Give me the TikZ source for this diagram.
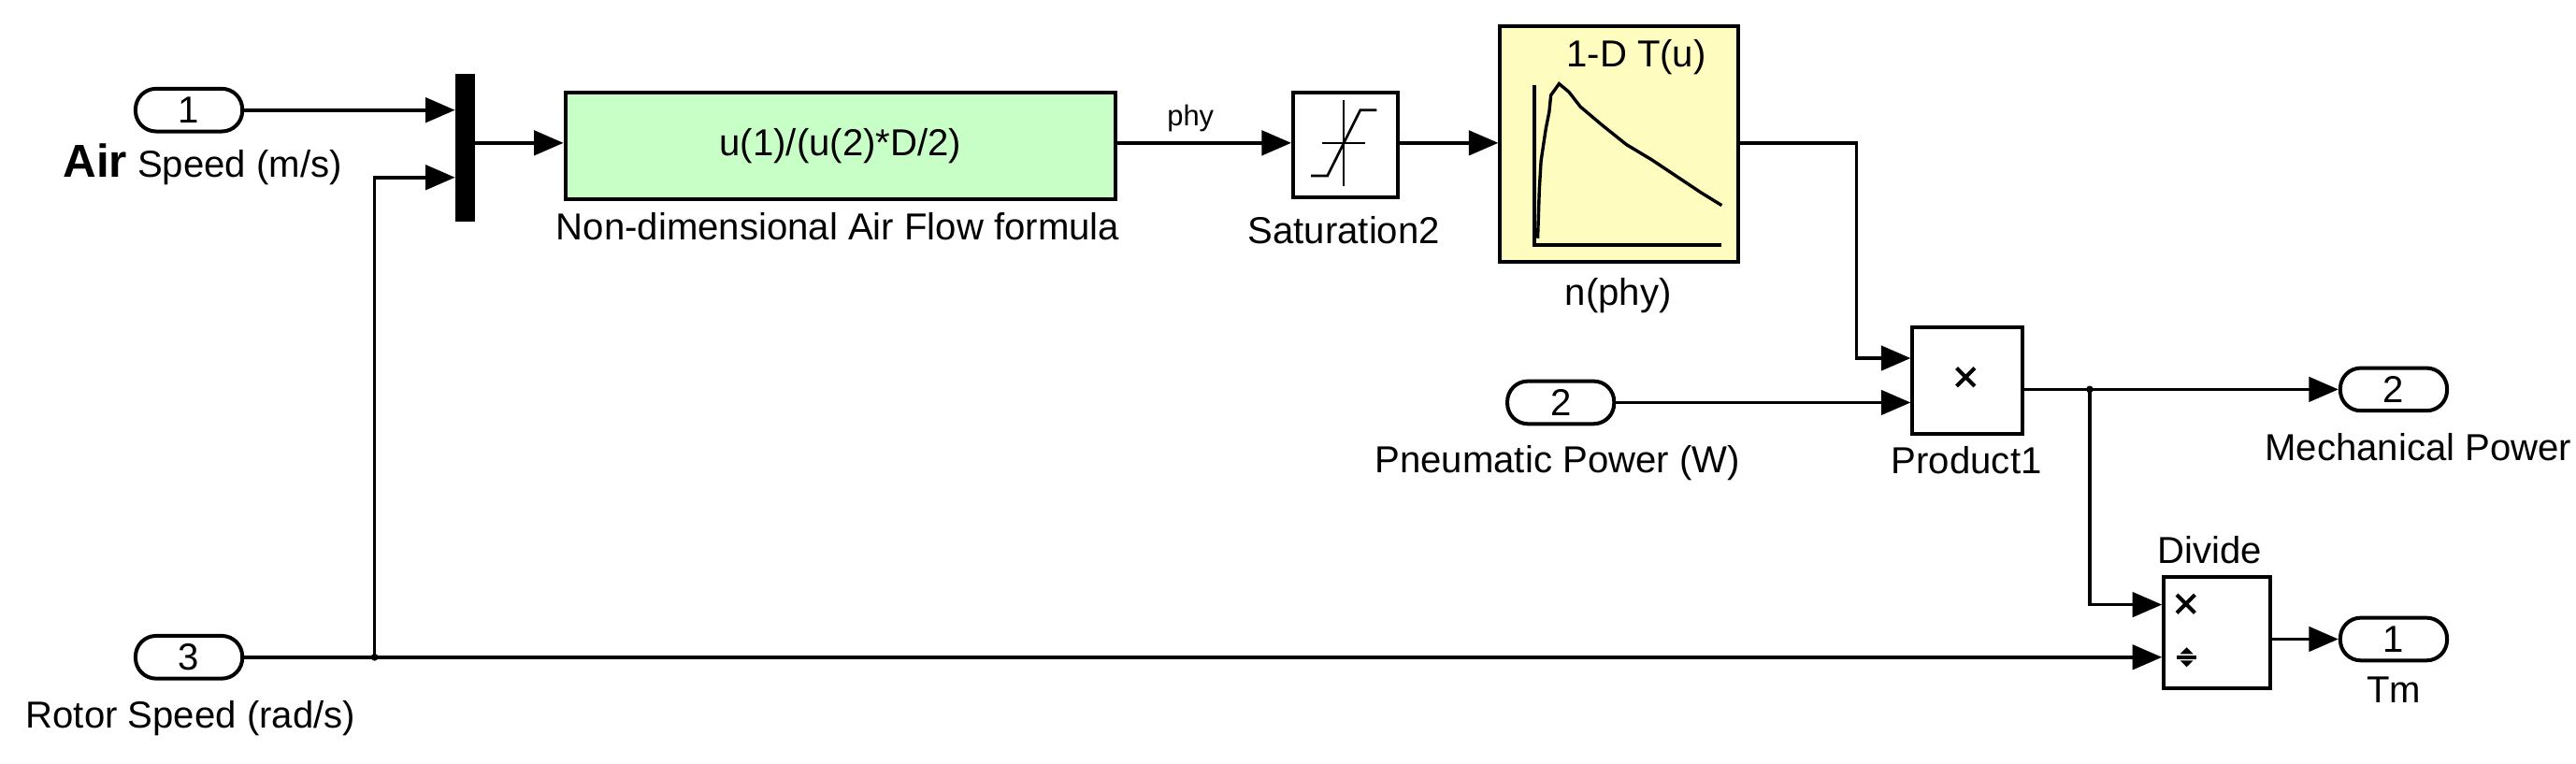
\documentclass[tikz,border=0pt]{standalone}
\usepackage{fontspec}
\setmainfont{Liberation Sans}
\usetikzlibrary{arrows.meta}
\begin{document}
\begin{tikzpicture}[x=0.02cm,y=-0.02cm,
  font=\fontsize{13}{15}\selectfont,
  wire/.style={line width=1.2pt},
  sig/.style={wire,-{Triangle[length=0.36cm,width=0.3cm]}},
  port/.style={draw,line width=1.3pt,rounded corners=0.25cm,minimum width=1.3cm,minimum height=0.52cm,inner sep=0pt},
  blk/.style={draw,line width=1.3pt,inner sep=0pt,anchor=north west},
  lbl/.style={inner sep=0pt},
  crs/.style={line width=1.3pt}]
\useasboundingbox (0,0) rectangle (1568,465);
% inports
\node[port] (in1) at (115,67) {1};
\node[lbl,anchor=west] (l1) at (38,100) {\fontsize{16}{18}\selectfont\textbf{Air}\fontsize{13}{15}\selectfont\ Speed (m/s)};
\node[port] (in3) at (115,400) {3};
\node[lbl] (l3) at (116,437) {Rotor Speed (rad/s)};
\node[port] (in2) at (950,245) {2};
\node[lbl] (l2) at (948,282) {Pneumatic Power (W)};
% mux
\node[fill=black,minimum width=0.24cm,minimum height=1.8cm,inner sep=0pt] (mux) at (283,90) {};
% fcn
\node[blk,fill=green!22,minimum width=6.7cm,minimum height=1.3cm] (fcn) at (343,55) {};
\node at (fcn.center) {u(1)/(u(2)*D/2)};
\node[lbl] (lf) at (510,138) {Non-dimensional Air Flow formula};
% saturation
\node[blk,fill=white,minimum width=1.28cm,minimum height=1.28cm] (sat) at (786,55) {};
\draw[line width=0.9pt] (798,107)--(808,107)--(828,67)--(838,67);
\draw[line width=0.6pt] (805,87)--(831,87) (818,61)--(818,113);
\node[lbl] (ls) at (818,140) {Saturation2};
% lookup
\node[blk,fill=yellow!25,minimum width=2.9cm,minimum height=2.86cm] (lut) at (912,15) {};
\node[lbl] at (996,35) {1-D T(u)};
\draw[line width=1.3pt] (934,52)--(934,149)--(1048,149);
\draw[line width=1.1pt] (936,145)--(937,115)--(938,98)--(941,78)--(943,68)--(944,58)--(949,51)--(955,56)--(962,65)--(975,76)--(990,88)--(1005,97)--(1020,107)--(1035,117)--(1048,125);
\node[lbl] (ll) at (985,180) {n(phy)};
% product
\node[blk,fill=white,minimum width=1.34cm,minimum height=1.3cm] (prod) at (1163,198) {};
\draw[crs] (1191,224)--(1202,235) (1191,235)--(1202,224);
\node[lbl] (lp) at (1197,280) {Product1};
% divide
\node[blk,fill=white,minimum width=1.3cm,minimum height=1.36cm] (div) at (1316,350) {};
\draw[crs] (1325,362)--(1336,373) (1325,373)--(1336,362);
\draw[crs] (1325,400)--(1337,400);
\fill (1331,394) -- (1327,398) -- (1335,398) -- cycle;
\fill (1331,406) -- (1327,402) -- (1335,402) -- cycle;
\node[lbl] (ld) at (1345,335) {Divide};
% outports
\node[port] (out2) at (1457,237) {2};
\node[lbl] (lo2) at (1472,272) {Mechanical Power};
\node[port] (out1) at (1457,389) {1};
\node[lbl] (lo1) at (1457,420) {Tm};
% wires
\coordinate (b1) at (228,400);
\coordinate (b2) at (1272,237);
\draw[sig] (in1.east) -- (277,67);
\draw[sig] (b1) |- (277,108);
\draw[sig] (289,87) -- (fcn.west |- 0,87);
\draw[sig] (fcn.east |- 0,87) -- node[above,pos=0.42,font=\fontsize{10}{11}\selectfont]{phy} (sat.west |- 0,87);
\draw[sig] (sat.east |- 0,87) -- (912,87);
\draw[sig] (1057,87) -| (1130,218) -- (1163,218);
\draw[sig] (in2.east) -- (1163,245);
\draw[sig] (1230,237) -- (out2.west);
\draw[sig] (b2) |- (1316,368);
\draw[sig] (in3.east) -- (1316,400);
\draw[sig] (1381,389) -- (out1.west);
\fill (b1) circle (2.2);
\fill (b2) circle (2.2);
\end{tikzpicture}
\end{document}
